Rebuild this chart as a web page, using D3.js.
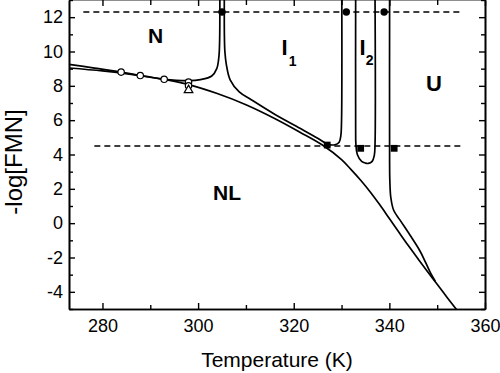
<!DOCTYPE html>
<html><head><meta charset="utf-8">
<script src="https://cdn.jsdelivr.net/npm/d3@7"></script>
<style>body{margin:0;background:#fff}svg{display:block}</style>
</head><body>
<svg id="c" width="500" height="373"></svg>
<script>
// ---- data ----
const xMajor = [280, 300, 320, 340, 360];
const xMinor = [290, 310, 330, 350];
const yMajor = [-4, -2, 0, 2, 4, 6, 8, 10, 12];
const yMinor = [-5, -3, -1, 1, 3, 5, 7, 9, 11, 13];

// NL boundary (lower curve)
const nlT = [273, 280, 286, 292, 298, 304, 310, 316, 321.3, 326, 330, 332, 334, 336, 338, 340, 342, 344, 346, 348, 350, 352, 354.3];
const nlV = [9.04, 8.87, 8.67, 8.42, 8.07, 7.55, 6.9, 6.1, 5.3, 4.55, 3.7, 3.12, 2.5, 1.82, 1.07, 0.27, -0.53, -1.32, -2.08, -2.83, -3.56, -4.3, -5.12];
// N boundary, left branch of the N spike
const nT = [273, 278, 283.9, 287.9, 292.9, 298, 300.5, 302.85, 303.9, 304.35, 304.5, 304.55];
const nV = [9.25, 9.05, 8.8, 8.6, 8.38, 8.3, 8.36, 8.57, 9.0, 9.7, 10.6, 13.3];
// right branch of the N spike, down to the I1 square, up the I1 line
const i1T = [305.48, 305.5, 305.6, 305.9, 306.7, 308.6, 311.2, 316, 321.3, 325, 327.1, 328.6, 329.5, 329.85, 330.0, 330.05];
const i1V = [13.3, 10.9, 10.0, 9.25, 8.35, 7.65, 7.18, 6.35, 5.53, 4.95, 4.6, 4.57, 4.72, 5.1, 6.0, 13.3];
// I2 U-shaped boundary
const i2T = [332.95, 332.95, 333.0, 333.3, 334.2, 335.0, 335.6, 336.4, 336.85, 337.0, 337.0];
const i2V = [13.3, 5.5, 4.6, 4.0, 3.6, 3.5, 3.48, 3.6, 3.95, 4.6, 13.3];
// U boundary (right line)
const uT = [340.05, 340.05, 340.1, 340.3, 340.9, 342.2, 344.3, 346.4, 347.6, 348.6, 349.6];
const uV = [13.3, 3.5, 2.45, 1.5, 0.75, 0.19, -0.69, -1.62, -2.3, -2.9, -3.38];

// markers
const openT = [283.9, 287.9, 292.9, 298, 298];
const openV = [8.8, 8.6, 8.38, 8.22, 8.0];
const triT = [298];
const triV = [7.75];
const dotT = [305.0, 331.0, 338.9];
const dotV = [12.3, 12.3, 12.3];
const sqT = [327.0, 334.0, 341.0];
const sqV = [4.55, 4.36, 4.36];
// dashed reference levels
const dashV = [12.3, 4.5];
const dashStart = [276.0, 278.3];
const dashEnd = [355, 355];

// ---- scales ----
const x = d3.scaleLinear().domain([273, 360]).range([69, 485]);
const y = d3.scaleLinear().domain([-5, 13]).range([309, 0]);

const svg = d3.select("#c");
const font = "'Liberation Sans', Arial, sans-serif";

svg.append("defs").append("clipPath").attr("id", "clip")
  .append("rect").attr("x", 69).attr("y", 0).attr("width", 416).attr("height", 309);

const g = svg.append("g").attr("clip-path", "url(#clip)");

// dashed lines
dashV.forEach((v, i) => {
  g.append("line")
    .attr("x1", x(dashStart[i])).attr("x2", x(dashEnd[i]))
    .attr("y1", y(v)).attr("y2", y(v))
    .attr("stroke", "#000").attr("stroke-width", 1.5)
    .attr("stroke-dasharray", "6,4");
});

const line = d3.line().x(d => x(d[0])).y(d => y(d[1])).curve(d3.curveCatmullRom.alpha(0.5));
[[nlT, nlV], [nT, nV], [i1T, i1V], [i2T, i2V], [uT, uV]].forEach(([T, V]) => {
  g.append("path").datum(T.map((t, i) => [t, V[i]]))
    .attr("d", line).attr("fill", "none").attr("stroke", "#000").attr("stroke-width", 1.7);
});

// markers
openT.forEach((t, i) => {
  g.append("circle").attr("cx", x(t)).attr("cy", y(openV[i])).attr("r", 3.2)
    .attr("fill", "#fff").attr("stroke", "#000").attr("stroke-width", 1.2);
});
triT.forEach((t, i) => {
  g.append("path").attr("d", d3.symbol(d3.symbolTriangle, 32)())
    .attr("transform", `translate(${x(t)},${y(triV[i])})`)
    .attr("fill", "#fff").attr("stroke", "#000").attr("stroke-width", 1.2);
});
dotT.forEach((t, i) => {
  g.append("circle").attr("cx", x(t)).attr("cy", y(dotV[i])).attr("r", 3.7).attr("fill", "#000");
});
sqT.forEach((t, i) => {
  g.append("rect").attr("x", x(t) - 3.4).attr("y", y(sqV[i]) - 3.4)
    .attr("width", 6.8).attr("height", 6.8).attr("fill", "#000");
});

// ---- axes ----
const fmt = d => String(d);
function styleAxis(sel) {
  sel.selectAll("path.domain").attr("stroke", "#000").attr("stroke-width", 1.6);
  sel.selectAll(".tick line").attr("stroke", "#000").attr("stroke-width", 1.4);
  sel.selectAll("text").attr("font-family", font).attr("font-size", 18).attr("fill", "#000");
}
const bottomMaj = svg.append("g").attr("transform", "translate(0,309)")
  .call(d3.axisBottom(x).tickValues(xMajor).tickFormat(fmt).tickSize(-6).tickPadding(10).tickSizeOuter(0));
styleAxis(bottomMaj);
const bottomMin = svg.append("g").attr("transform", "translate(0,309)")
  .call(d3.axisBottom(x).tickValues(xMinor).tickSize(-4).tickFormat("").tickSizeOuter(0));
styleAxis(bottomMin);

const leftMaj = svg.append("g").attr("transform", "translate(69,0)")
  .call(d3.axisLeft(y).tickValues(yMajor).tickFormat(fmt).tickSize(-6).tickPadding(6).tickSizeOuter(0));
styleAxis(leftMaj);
const leftMin = svg.append("g").attr("transform", "translate(69,0)")
  .call(d3.axisLeft(y).tickValues(yMinor).tickSize(-4).tickFormat("").tickSizeOuter(0));
styleAxis(leftMin);

const rightMaj = svg.append("g").attr("transform", "translate(485,0)")
  .call(d3.axisRight(y).tickValues(yMajor).tickSize(-6).tickFormat("").tickSizeOuter(0));
styleAxis(rightMaj);
const rightMin = svg.append("g").attr("transform", "translate(485,0)")
  .call(d3.axisRight(y).tickValues(yMinor).tickSize(-4).tickFormat("").tickSizeOuter(0));
styleAxis(rightMin);

const topMaj = svg.append("g").attr("transform", "translate(0,-1)")
  .call(d3.axisTop(x).tickValues(xMajor).tickSize(-7).tickFormat("").tickSizeOuter(0));
styleAxis(topMaj);
const topMin = svg.append("g").attr("transform", "translate(0,-1)")
  .call(d3.axisTop(x).tickValues(xMinor).tickSize(-6).tickFormat("").tickSizeOuter(0));
styleAxis(topMin);

// axis titles
svg.append("text").attr("x", 277).attr("y", 366.5).attr("text-anchor", "middle")
  .attr("font-family", font).attr("font-size", 21).text("Temperature (K)");
svg.append("text").attr("transform", "translate(22,162) rotate(-90)").attr("text-anchor", "middle")
  .attr("font-family", font).attr("font-size", 24).text("-log[FMN]");

// region labels
const lab = svg.append("g").attr("font-family", font).attr("font-weight", "bold").attr("fill", "#000");
lab.append("text").attr("x", 155.5).attr("y", 43).attr("text-anchor", "middle").attr("font-size", 21).text("N");
const t1 = lab.append("text").attr("x", 281.5).attr("y", 55).attr("font-size", 22);
t1.append("tspan").text("I");
t1.append("tspan").attr("dx", 1).attr("dy", 11).attr("font-size", 14).text("1");
const t2 = lab.append("text").attr("x", 359.5).attr("y", 55).attr("font-size", 22);
t2.append("tspan").text("I");
t2.append("tspan").attr("dx", 0).attr("dy", 10).attr("font-size", 14).text("2");
lab.append("text").attr("x", 434).attr("y", 90.5).attr("text-anchor", "middle").attr("font-size", 22).text("U");
lab.append("text").attr("x", 213).attr("y", 200).attr("font-size", 21).text("NL");
</script>
</body></html>
